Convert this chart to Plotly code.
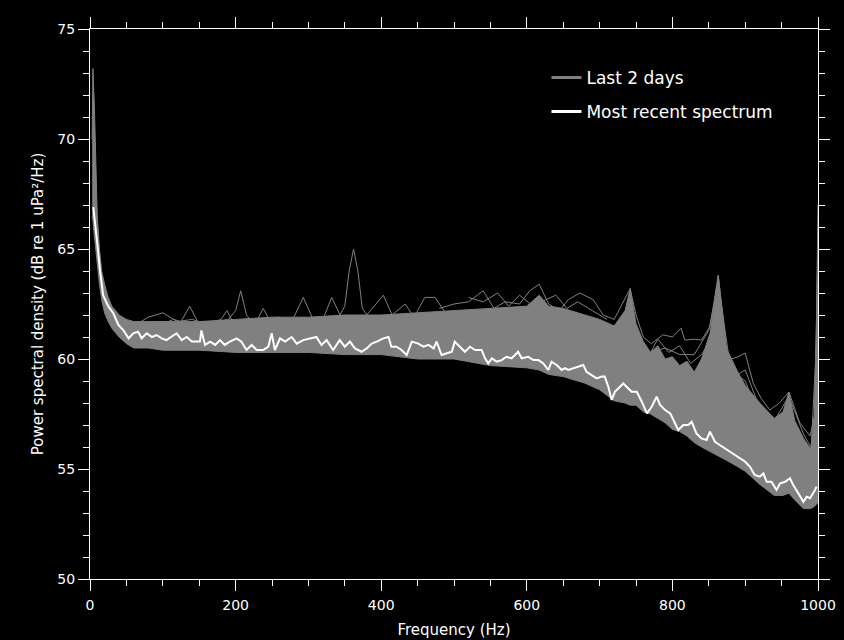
import plotly.graph_objects as go

# ---------------- data ----------------
recent_freq = [
    4.5, 7.3, 10.5, 13.7, 18, 25, 32, 39, 46, 53,
    59.5, 66, 71, 78, 85, 91.6, 98.5, 105, 112, 119,
    126, 133, 140, 151, 153, 158, 165, 172, 178.6, 185,
    192, 201.5, 208, 215, 222, 229, 238, 245, 249.5, 254,
    261, 268, 277, 284, 293, 302, 311, 318, 325, 334,
    343, 350, 357, 364, 373, 380, 387, 394, 403, 410,
    414, 421, 428, 435, 442, 451, 458, 465, 472, 476,
    483, 490, 497, 501, 508, 515, 522, 529, 538, 542.6,
    547, 552, 558.6, 565.5, 572, 579, 583.8, 588, 593, 602,
    609, 616, 622.7, 629.5, 634, 641, 648, 652.5, 657, 664,
    670.7, 677.6, 682, 689, 696, 703, 707, 712, 716.6, 721,
    725.7, 732.5, 737, 744, 751, 758, 765, 771.6, 778.4, 783,
    790, 797, 803.6, 808, 815, 822, 826.5, 833, 840, 847,
    851.6, 858.5, 865, 872, 879, 886, 893, 900, 906.6, 913,
    920, 925, 929.5, 936, 943, 948, 955, 961.5, 966, 973,
    980, 984.5, 989, 996, 998,
]
recent_psd = [
    66.9, 65.9, 65.1, 64.05, 62.9, 62.4, 62.08, 61.55, 61.3, 60.94,
    61.17, 61.24, 60.94, 61.17, 61.0, 61.09, 60.94, 60.86, 61.0, 61.17,
    60.86, 61.0, 60.79, 60.79, 61.3, 60.64, 60.79, 60.64, 60.86, 60.64,
    60.79, 60.94, 60.79, 60.41, 60.64, 60.41, 60.41, 60.56, 61.17, 60.41,
    60.94, 60.79, 61.0, 60.7, 60.86, 60.94, 61.0, 60.64, 60.86, 60.41,
    60.86, 60.56, 60.79, 60.48, 60.33, 60.48, 60.7, 60.79, 60.94, 61.0,
    60.56, 60.56, 60.41, 60.18, 60.79, 60.70, 60.56, 60.64, 60.48, 60.79,
    60.18, 60.26, 60.33, 60.79, 60.56, 60.33, 60.56, 60.41, 60.41, 60.03,
    59.80, 60.03, 59.88, 59.95, 60.1, 60.03, 60.18, 60.33, 60.03, 60.1,
    59.95, 59.95, 59.8, 59.5, 59.88, 59.73, 59.5, 59.58, 59.5, 59.58,
    59.65, 59.73, 59.42, 59.27, 59.12, 59.2, 59.2, 58.74, 58.14, 58.51,
    58.67, 58.89, 58.74, 58.51, 58.51, 58.06, 57.53, 57.83, 58.29, 57.91,
    57.68, 57.53, 57.08, 56.77, 57.0, 57.0, 57.15, 56.62, 56.39, 56.32,
    56.7, 56.24, 56.09, 55.94, 55.79, 55.64, 55.49, 55.33, 55.1, 54.73,
    54.65, 54.8, 54.42, 54.42, 54.05, 54.35, 54.42, 54.58, 54.27, 53.9,
    53.51, 53.74, 53.67, 54.05, 54.2,
]

# dense core of the "last 2 days" spectra (lower / upper envelope)
band_freq = [
    3, 4, 6, 8, 10, 13, 16, 20, 25, 30,
    40, 50, 60, 80, 100, 150, 200, 250, 300, 350,
    400, 450, 500, 550, 600, 617, 630, 650, 680, 700,
    720, 735, 742, 750, 760, 770, 780, 790, 800, 810,
    820, 830, 840, 852, 863, 874, 890, 900, 920, 940,
    952, 960, 968, 980, 990, 995, 998, 1000,
]
band_high = [
    70.0, 73.2, 71.5, 68.5, 66.5, 65.0, 64.0, 63.4, 62.8, 62.4,
    62.0, 61.8, 61.7, 61.7, 61.7, 61.7, 61.8, 61.9, 61.9, 62.0,
    62.0, 62.1, 62.2, 62.3, 62.4, 62.9, 62.4, 62.3, 62.0, 61.8,
    61.5, 62.2, 63.2, 61.6, 60.8, 60.3, 60.6, 60.0, 60.1, 59.7,
    59.9, 59.4, 60.0, 61.2, 63.8, 60.5, 59.4, 58.8, 58.0, 57.3,
    57.6, 58.5, 57.2, 56.4, 55.9, 57.5, 62.0, 67.0,
]
band_low = [
    66.5, 66.3, 65.6, 64.9, 64.3, 63.4, 62.7, 62.1, 61.7, 61.4,
    61.0, 60.7, 60.5, 60.5, 60.4, 60.4, 60.3, 60.3, 60.3, 60.2,
    60.2, 60.0, 60.0, 59.7, 59.6, 59.5, 59.3, 59.2, 58.9, 58.6,
    58.1, 58.0, 57.9, 57.9, 57.6, 57.5, 57.3, 57.1, 56.8, 56.7,
    56.5, 56.2, 56.0, 55.8, 55.6, 55.4, 55.1, 54.9, 54.3, 53.8,
    53.8, 53.9, 53.6, 53.2, 53.2, 53.3, 53.4, 53.5,
]

# individual "last 2 days" spectra that stand out of the dense core
spec1_freq = [100, 115, 125, 137, 148, 160, 175, 190, 200, 207, 215, 225, 240, 260,
              280, 300, 320, 340, 350, 356, 362, 368, 374, 385, 400]
spec1_psd = [61.6, 61.8, 61.7, 62.4, 61.7, 61.6, 61.7, 61.8, 62.2, 63.1, 62.0, 61.6,
             61.8, 61.9, 61.7, 61.8, 61.9, 61.8, 62.4, 64.0, 65.0, 64.0, 62.3, 61.8, 61.9]

spec2_freq = [60, 80, 100, 120, 140, 160, 180, 188, 196, 210, 230, 238, 246, 260, 280,
              293, 305, 320, 332, 345, 360, 380, 403, 415, 433, 445, 460, 474, 490, 510]
spec2_psd = [61.5, 61.9, 62.1, 61.7, 61.8, 61.6, 61.8, 62.2, 61.7, 61.6, 61.8, 62.3,
             61.8, 61.7, 61.9, 62.8, 61.9, 61.8, 62.8, 61.9, 61.7, 62.0, 62.9, 62.0,
             62.5, 61.9, 62.8, 62.8, 62.0, 62.2]

spec3_freq = [480, 500, 520, 540, 555, 570, 590, 604, 617, 630, 645, 657, 673, 691, 705,
              720, 742, 750, 760, 771, 787, 800, 812, 817, 830, 840, 852, 863, 876, 890,
              900, 911, 922, 934, 947, 960, 975, 989, 996, 1000]
spec3_psd = [62.3, 62.5, 62.6, 63.1, 62.3, 62.6, 62.5, 63.1, 63.4, 62.5, 62.2, 62.7,
             63.0, 62.7, 62.0, 61.8, 63.2, 62.0, 61.0, 60.7, 61.1, 61.0, 61.4, 60.86,
             60.9, 60.86, 61.5, 63.8, 59.95, 60.1, 60.27, 58.9, 58.2, 57.68, 58.0, 58.5,
             57.1, 56.5, 57.5, 66.0]

spec4_freq = [700, 720, 742, 755, 770, 790, 810, 830, 850, 863, 880, 900, 920, 940, 960,
              980, 990]
spec4_psd = [61.5, 61.0, 62.5, 60.0, 60.3, 60.5, 60.2, 60.2, 61.3, 63.5, 59.5, 59.0,
             57.4, 57.2, 58.3, 56.6, 56.0]

spec5_freq = [760, 780, 800, 820, 840, 860, 880, 900, 920, 940, 960, 980]
spec5_psd = [59.3, 58.8, 58.3, 58.7, 58.2, 58.6, 58.0, 57.3, 56.5, 56.0, 56.8, 55.2]

spec6_freq = [620, 640, 660, 680, 700, 720, 740, 760, 780, 800, 820, 840, 860, 880, 900,
              920, 940, 960, 980, 995]
spec6_psd = [61.5, 61.0, 60.8, 61.2, 60.2, 60.0, 62.0, 59.5, 59.0, 59.6, 58.6, 58.0,
             60.5, 57.5, 57.2, 56.4, 55.8, 57.4, 55.0, 54.6]

spec7_freq = [750, 765, 780, 795, 810, 825, 840, 855, 863, 870, 885, 900, 915, 930, 945,
              960, 975, 990, 1000]
spec7_psd = [60.4, 60.0, 60.9, 60.3, 60.6, 59.8, 60.2, 61.0, 62.5, 60.0, 59.2, 59.5,
             58.2, 57.5, 57.0, 57.8, 56.2, 55.6, 62.0]

spec8_freq = [640, 660, 680, 700, 720, 740, 760, 780, 800, 820, 840, 860, 880, 900, 920,
              940, 960, 980, 995]
spec8_psd = [61.2, 61.6, 60.6, 60.8, 60.0, 61.0, 59.0, 59.6, 58.6, 59.2, 58.6, 59.6,
             58.4, 57.8, 57.0, 56.4, 56.4, 55.6, 55.0]

spec9_freq = [520, 540, 560, 575, 590, 605, 620, 640, 655, 670, 690, 710]
spec9_psd = [62.8, 62.6, 63.0, 62.4, 62.9, 62.5, 62.6, 62.9, 62.3, 62.6, 62.2, 61.8]

x_ticks = [0, 200, 400, 600, 800, 1000]
y_ticks = [50, 55, 60, 65, 70, 75]

assert len(recent_freq) == len(recent_psd)
assert len(band_freq) == len(band_high) == len(band_low)

GRAY = "#808080"
WHITE = "#ffffff"
FONT = "DejaVu Sans"

fig = go.Figure()

fig.add_trace(go.Scatter(x=band_freq, y=band_low, mode="lines",
                         line=dict(color=GRAY, width=1), showlegend=False,
                         hoverinfo="skip"))
fig.add_trace(go.Scatter(x=band_freq, y=band_high, mode="lines",
                         line=dict(color=GRAY, width=1), fill="tonexty",
                         fillcolor=GRAY, showlegend=False, hoverinfo="skip"))

for fx, fy in [(spec1_freq, spec1_psd), (spec2_freq, spec2_psd),
               (spec3_freq, spec3_psd), (spec4_freq, spec4_psd),
               (spec5_freq, spec5_psd), (spec6_freq, spec6_psd),
               (spec7_freq, spec7_psd), (spec8_freq, spec8_psd),
               (spec9_freq, spec9_psd)]:
    fig.add_trace(go.Scatter(x=fx, y=fy, mode="lines",
                             line=dict(color=GRAY, width=1), showlegend=False))

fig.add_trace(go.Scatter(x=recent_freq, y=recent_psd, mode="lines",
                         line=dict(color=WHITE, width=2), showlegend=False))

# legend entries
fig.add_trace(go.Scatter(x=[None], y=[None], mode="lines", name="Last 2 days",
                         line=dict(color=GRAY, width=3), legend="legend"))
fig.add_trace(go.Scatter(x=[None], y=[None], mode="lines", name="Most recent spectrum",
                         line=dict(color=WHITE, width=3), legend="legend2"))

axis_common = dict(
    showline=True, linecolor=WHITE, linewidth=1, mirror="allticks",
    ticks="outside", tickcolor=WHITE, ticklen=11, tickwidth=1,
    showgrid=False, zeroline=False, automargin=False,
    tickfont=dict(family=FONT, size=14, color=WHITE),
)

fig.update_layout(
    width=844, height=640,
    paper_bgcolor="black", plot_bgcolor="black",
    margin=dict(l=90, r=26, t=29, b=61, autoexpand=False),
    font=dict(family=FONT, color=WHITE, size=14),
    hovermode=False,
    xaxis=dict(range=[0, 1000], tickvals=x_ticks,
               minor=dict(dtick=50, ticklen=6, tickcolor=WHITE, ticks="outside",
                          showgrid=False),
               title=dict(text="Frequency (Hz)",
                          font=dict(family=FONT, size=15, color=WHITE),
                          standoff=12),
               ticklabelstandoff=2,
               **axis_common),
    yaxis=dict(range=[50, 75], tickvals=y_ticks,
               minor=dict(dtick=1, ticklen=6, tickcolor=WHITE, ticks="outside",
                          showgrid=False),
               title=dict(text="Power spectral density (dB re 1 uPa²/Hz)",
                          font=dict(family=FONT, size=15, color=WHITE),
                          standoff=10),
               **axis_common),
    legend=dict(x=0.627, y=0.911, xanchor="left", yanchor="middle",
                bgcolor="rgba(0,0,0,0)", borderwidth=0,
                font=dict(family=FONT, size=17, color=WHITE)),
    legend2=dict(x=0.627, y=0.849, xanchor="left", yanchor="middle",
                 bgcolor="rgba(0,0,0,0)", borderwidth=0,
                 font=dict(family=FONT, size=17, color=WHITE)),
)

# remove the default 8px page margin so the 844x640 figure fills the window exactly
fig.write_html(
    "out.html",
    config={"displayModeBar": False},
    post_script="document.body.style.margin='0';"
                "document.body.style.overflow='hidden';"
                "document.body.style.background='black';"
                "document.documentElement.style.background='black';",
)
